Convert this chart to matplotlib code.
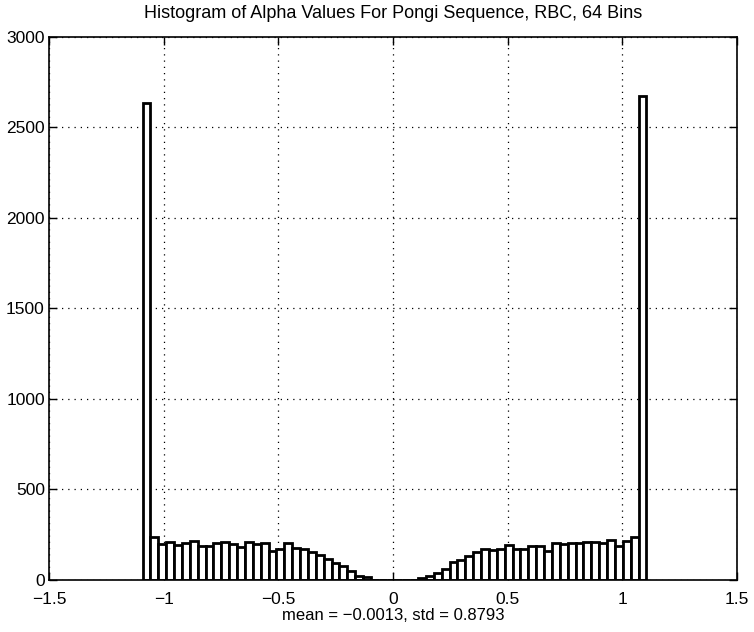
import numpy as np
import matplotlib
matplotlib.use("Agg")
import matplotlib.pyplot as plt

plt.rcParams['font.family'] = ['Liberation Sans', 'DejaVu Sans']

# Histogram of alpha values: 64 equal-width bins between the sample extremes
alpha_min = -1.092
alpha_max = 1.105
n_bins = 64

left_tail = [2634]
left_counts = [234, 197, 208, 193, 203, 215, 184, 184, 203, 208, 195, 178, 206, 199,
               203, 157, 171, 203, 175, 166, 151, 133, 116, 92, 74, 46, 22, 13]
centre_counts = [0, 0, 0, 0, 0, 0]
right_counts = [10, 22, 37, 59, 97, 106, 129, 151, 168, 165, 171, 189, 168, 171,
                184, 188, 155, 204, 197, 200, 204, 206, 206, 200, 217, 188, 213, 234]
right_tail = [2671]

counts = np.array(left_tail + left_counts + centre_counts + right_counts + right_tail)

x_ticks = [-1.5, -1, -0.5, 0, 0.5, 1, 1.5]
x_tick_labels = ["\u22121.5", "\u22121", "\u22120.5", "0", "0.5", "1", "1.5"]
y_ticks = [0, 500, 1000, 1500, 2000, 2500, 3000]

title = "Histogram of Alpha Values For Pongi Sequence, RBC, 64 Bins"
stats_label = "mean = \u22120.0013, std = 0.8793"

edges = np.linspace(alpha_min, alpha_max, n_bins + 1)
centres = 0.5 * (edges[:-1] + edges[1:])
width = edges[1] - edges[0]

fig = plt.figure(figsize=(7.54, 6.32), dpi=100)
ax = fig.add_axes([49 / 754, (632 - 579.5) / 632, 688 / 754, 542.5 / 632])

ax.bar(centres, counts, width=width, facecolor="white", edgecolor="black",
       linewidth=2.0, zorder=3)

ax.set_xlim(-1.5, 1.5)
ax.set_ylim(0, 3000)
ax.set_xticks(x_ticks)
ax.set_xticklabels(x_tick_labels)
ax.set_yticks(y_ticks)

ax.grid(True, color="black", linestyle=(0, (1, 4)), linewidth=0.9, zorder=0)
ax.tick_params(direction="in", length=6, width=1, top=True, right=True,
               labelsize=12.5)
ax.tick_params(axis="x", pad=9)
ax.tick_params(axis="y", pad=3)
for s in ax.spines.values():
    s.set_linewidth(1.2)
    s.set_zorder(4)

ax.set_title(title, fontsize=13, pad=14)
ax.set_xlabel(stats_label, fontsize=12, labelpad=1)

fig.savefig("out.png", dpi=100, facecolor="white")
